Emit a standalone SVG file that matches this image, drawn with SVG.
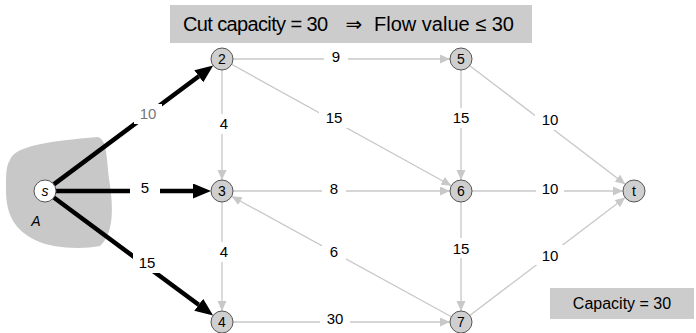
<svg xmlns="http://www.w3.org/2000/svg" width="696" height="333" viewBox="0 0 696 333">
  <style>
    text { font-family: "Liberation Sans", "DejaVu Sans", sans-serif; fill: #000; }
    .lbl { font-size: 15px; text-anchor: middle; }
    .node circle { fill: #cfcfcf; stroke: #555; stroke-width: 1; }
    .node text { font-size: 14px; text-anchor: middle; }
    .thin { stroke: #c8c8c8; stroke-width: 1.3; fill: none; marker-end: url(#grayhead); }
    .thick { stroke: #000; stroke-width: 4.5; fill: none; marker-end: url(#blackhead); }
    .bg { fill: #fff; }
    .box { fill: #cccccc; }
  </style>
  <defs>
    <marker id="grayhead" markerUnits="userSpaceOnUse" markerWidth="12" markerHeight="10" refX="10" refY="4.5" orient="auto">
      <path d="M0,0 L10,4.5 L0,9 z" fill="#c8c8c8"/>
    </marker>
    <marker id="blackhead" markerUnits="userSpaceOnUse" markerWidth="20" markerHeight="16" refX="0" refY="7.5" orient="auto">
      <path d="M0,0 L18,7.5 L0,15 z" fill="#000"/>
    </marker>
  </defs>

  <!-- cut set A -->
  <path d="M10,160 C14,146 50,141 98,137 C108,140 106,160 110,185 C114,215 112,235 100,246 C80,250 50,248 35,240 C15,230 6,215 6,190 C6,174 6,166 10,160 Z" fill="#c8c8c8"/>
  <text x="36" y="226" font-size="14" font-style="italic" text-anchor="middle">A</text>

  <!-- header boxes -->
  <rect class="box" x="170" y="5" width="362" height="38"/>
  <text x="183" y="31" font-size="20" textLength="145" lengthAdjust="spacing">Cut capacity = 30</text>
  <text x="354" y="31" font-size="20" text-anchor="middle">⇒</text>
  <text x="514" y="31" font-size="20" text-anchor="end">Flow value ≤ 30</text>
  <rect class="box" x="550" y="288" width="144" height="31"/>
  <text x="622" y="309" font-size="16" text-anchor="middle">Capacity = 30</text>

  <g id="edges">
    <!-- cut edges leaving A -->
    <line class="thick" x1="53.8" y1="184.4" x2="198.8" y2="76.3"/>
    <line class="thick" x1="56" y1="191" x2="193" y2="191"/>
    <line class="thick" x1="53.8" y1="197.5" x2="198.7" y2="304.8"/>
    <!-- remaining edges -->
    <line class="thin" x1="233" y1="59" x2="450" y2="59"/>
    <line class="thin" x1="222" y1="70" x2="222" y2="180"/>
    <line class="thin" x1="231.6" y1="64.3" x2="451.4" y2="185.7"/>
    <line class="thin" x1="461" y1="70" x2="461" y2="180"/>
    <line class="thin" x1="469.7" y1="65.7" x2="625.3" y2="184.3"/>
    <line class="thin" x1="233" y1="191" x2="450" y2="191"/>
    <line class="thin" x1="472" y1="191" x2="623" y2="191"/>
    <line class="thin" x1="222" y1="202" x2="222" y2="311"/>
    <line class="thin" x1="451.4" y1="316.7" x2="231.6" y2="196.3"/>
    <line class="thin" x1="461" y1="202" x2="461" y2="311"/>
    <line class="thin" x1="469.8" y1="315.4" x2="625.2" y2="197.6"/>
    <line class="thin" x1="233" y1="322" x2="450" y2="322"/>

    <!-- capacity labels -->
    <rect class="bg" x="134" y="104" width="28" height="20"/>
    <text class="lbl" x="148" y="119" style="fill:#777">10</text>
    <rect class="bg" x="130" y="180" width="30" height="20"/>
    <text class="lbl" x="145" y="193">5</text>
    <rect class="bg" x="133" y="253" width="28" height="20"/>
    <text class="lbl" x="147" y="268">15</text>

    <rect class="bg" x="324" y="48" width="24" height="20"/>
    <text class="lbl" x="336" y="62">9</text>
    <rect class="bg" x="215" y="114" width="18" height="20"/>
    <text class="lbl" x="224" y="129">4</text>
    <rect class="bg" x="319" y="108" width="30" height="20"/>
    <text class="lbl" x="334" y="123">15</text>
    <rect class="bg" x="450" y="108" width="22" height="20"/>
    <text class="lbl" x="461" y="123">15</text>
    <rect class="bg" x="535" y="110" width="30" height="20"/>
    <text class="lbl" x="550" y="125">10</text>
    <rect class="bg" x="322" y="180" width="24" height="20"/>
    <text class="lbl" x="334" y="194">8</text>
    <rect class="bg" x="536" y="180" width="28" height="20"/>
    <text class="lbl" x="550" y="194">10</text>
    <rect class="bg" x="215" y="242" width="18" height="20"/>
    <text class="lbl" x="224" y="257">4</text>
    <rect class="bg" x="322" y="241" width="24" height="22"/>
    <text class="lbl" x="334" y="257">6</text>
    <rect class="bg" x="450" y="238" width="22" height="20"/>
    <text class="lbl" x="461" y="254">15</text>
    <rect class="bg" x="535" y="245" width="30" height="20"/>
    <text class="lbl" x="550" y="261">10</text>
    <rect class="bg" x="320" y="311" width="30" height="20"/>
    <text class="lbl" x="335" y="324">30</text>
  </g>

  <g id="node-s" class="node"><circle cx="45" cy="191" r="11" style="fill:#fff"/><text x="45" y="196" font-style="italic">s</text></g>
  <g id="node-2" class="node"><circle cx="222" cy="59" r="11"/><text x="222" y="64">2</text></g>
  <g id="node-5" class="node"><circle cx="461" cy="59" r="11"/><text x="461" y="64">5</text></g>
  <g id="node-3" class="node"><circle cx="222" cy="191" r="11"/><text x="222" y="196">3</text></g>
  <g id="node-6" class="node"><circle cx="461" cy="191" r="11"/><text x="461" y="196">6</text></g>
  <g id="node-t" class="node"><circle cx="634" cy="191" r="11"/><text x="634" y="196">t</text></g>
  <g id="node-4" class="node"><circle cx="222" cy="322" r="11"/><text x="222" y="327">4</text></g>
  <g id="node-7" class="node"><circle cx="461" cy="322" r="11"/><text x="461" y="327">7</text></g>
</svg>
